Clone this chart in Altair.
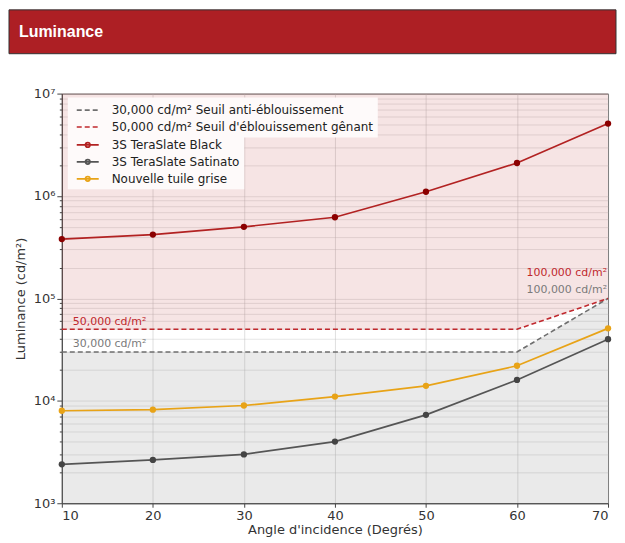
import altair as alt
import pandas as pd

# ---- data ----
angles = [10, 20, 30, 40, 50, 60, 70]
black = [380000, 420000, 500000, 620000, 1100000, 2100000, 5100000]
satinato = [2400, 2650, 3000, 4000, 7300, 16000, 40000]
grise = [8000, 8200, 9000, 11000, 14000, 22000, 51000]
seuil_anti = [30000, 30000, 30000, 30000, 30000, 30000, 100000]
seuil_gene = [50000, 50000, 50000, 50000, 50000, 50000, 100000]

S1 = "30,000 cd/m² Seuil anti-éblouissement"
S2 = "50,000 cd/m² Seuil d'éblouissement gênant"
S3 = "3S TeraSlate Black"
S4 = "3S TeraSlate Satinato"
S5 = "Nouvelle tuile grise"
thr_names = [S1, S2]
thr_colors = ["#6f6f6f", "#c0282d"]
ser_names = [S3, S4, S5]
ser_colors = ["#b22222", "#555555", "#e8a317"]
marker_colors = {S3: "#8b0000", S4: "#444444", S5: "#e8a317"}

y_ticks = [m * 10 ** k for k in range(3, 7) for m in range(1, 10)] + [10 ** 7]
x_ticks = [10, 20, 30, 40, 50, 60, 70]

thr_rows = []
for name, vals in [(S1, seuil_anti), (S2, seuil_gene)]:
    for a, v in zip(angles, vals):
        thr_rows.append({"angle": a, "value": v, "thr": name})
df_thr = pd.DataFrame(thr_rows)

ser_rows = []
for name, vals in [(S3, black), (S4, satinato), (S5, grise)]:
    for a, v in zip(angles, vals):
        ser_rows.append({"angle": a, "value": v, "series": name,
                         "mcolor": marker_colors[name]})
df_ser = pd.DataFrame(ser_rows)

upper = pd.DataFrame({"angle": angles, "value": seuil_gene})
lower = pd.DataFrame({"angle": angles, "value": seuil_anti})

is_pow = "abs(log(datum.value)/LN10 - round(log(datum.value)/LN10)) < 0.001"

X = alt.X("angle:Q", scale=alt.Scale(domain=[10, 70], nice=False),
          axis=alt.Axis(values=x_ticks, title="Angle d'incidence (Degrés)",
                        tickSize=4, labelFontSize=13, titleFontSize=13,
                        labelPadding=2, titlePadding=1, format="d",
                        gridColor="#b8b8b8", gridOpacity=0.45))
Y = alt.Y("value:Q", scale=alt.Scale(type="log", domain=[1000, 10000000], nice=False),
          axis=alt.Axis(values=y_ticks, title="Luminance (cd/m²)",
                        labelExpr=is_pow + " ? ('10' + ['⁰','¹','²','³','⁴','⁵','⁶','⁷','⁸','⁹'][round(log(datum.value)/LN10)]) : ''",
                        tickSize={"condition": {"test": is_pow, "value": 5}, "value": 2.5},
                        labelFontSize=13, titleFontSize=13, titlePadding=6,
                        gridColor="#b8b8b8", gridOpacity=0.35))

area_up = alt.Chart(upper).mark_area(color="#b22222", opacity=0.12).encode(
    x=X, y=Y, y2=alt.datum(10000000))
area_low = alt.Chart(lower).mark_area(color="#7f7f7f", opacity=0.16).encode(
    x=X, y=Y, y2=alt.datum(1000))

legend_common = dict(title=None, orient="none", legendX=6,
                     fillColor="#fefafa", padding=4, labelFont="DejaVu Sans",
                     labelFontSize=12, labelColor="#222222", symbolSize=225,
                     rowPadding=2, labelOffset=23, symbolStrokeWidth=1.7,
                     labelLimit=500)
leg_thr = alt.Legend(legendY=4, symbolType="M-0.47,0H2.47", symbolDash=[5, 3],
                     **legend_common)
nb = "\u00a0" * 34
leg_ser = alt.Legend(legendY=39,
                     symbolType="M-0.47,0H2.47M1.3,0A0.3,0.3,0,1,1,0.7,0A0.3,0.3,0,1,1,1.3,0",
                     labelExpr="datum.label + '" + nb + "'",
                     **legend_common)

thr_lines = alt.Chart(df_thr).mark_line(strokeWidth=1.6, strokeDash=[5, 3]).encode(
    x=X, y=Y,
    stroke=alt.Stroke("thr:N", sort=thr_names,
                      scale=alt.Scale(domain=thr_names, range=thr_colors), legend=leg_thr))
ser_lines = alt.Chart(df_ser).mark_line(strokeWidth=1.7).encode(
    x=X, y=Y,
    color=alt.Color("series:N", sort=ser_names,
                    scale=alt.Scale(domain=ser_names, range=ser_colors), legend=leg_ser))
points = alt.Chart(df_ser).mark_circle(size=40, opacity=1).encode(
    x=X, y=Y, fill=alt.Fill("mcolor:N", scale=None))

txt_left = pd.DataFrame({"angle": [10, 10], "value": [50000, 30000],
                         "label": ["50,000 cd/m²", "30,000 cd/m²"]})
t50 = alt.Chart(txt_left.iloc[[0]]).mark_text(
    align="left", baseline="middle", dx=11, dy=-7, fontSize=11,
    font="DejaVu Sans", color="#c0282d").encode(x=X, y=Y, text="label:N")
t30 = alt.Chart(txt_left.iloc[[1]]).mark_text(
    align="left", baseline="middle", dx=11, dy=-8, fontSize=11,
    font="DejaVu Sans", color="#7a7a7a").encode(x=X, y=Y, text="label:N")
txt_right = pd.DataFrame({"angle": [70, 70], "value": [100000, 100000],
                          "label": ["100,000 cd/m²", "100,000 cd/m²"]})
t100r = alt.Chart(txt_right.iloc[[0]]).mark_text(
    align="right", baseline="middle", dx=-1, dy=-25, fontSize=11,
    font="DejaVu Sans", color="#c0282d").encode(x=X, y=Y, text="label:N")
t100g = alt.Chart(txt_right.iloc[[1]]).mark_text(
    align="right", baseline="middle", dx=-1, dy=-8, fontSize=11,
    font="DejaVu Sans", color="#7a7a7a").encode(x=X, y=Y, text="label:N")

banner_df = pd.DataFrame({"t": ["Luminance"]})
banner = alt.Chart(banner_df).mark_rect(color="#ad1f24", stroke="#333333", strokeWidth=1).encode(
    x=alt.value(-53), x2=alt.value(556), y=alt.value(-84), y2=alt.value(-40))
banner_txt = alt.Chart(banner_df).mark_text(
    align="left", baseline="middle", font="Liberation Sans", fontSize=16,
    fontWeight="bold", color="white").encode(
    x=alt.value(-43), y=alt.value(-62), text="t:N")

chart = alt.layer(area_up, area_low, thr_lines, ser_lines, points, t50, t30, t100r, t100g,
                  banner, banner_txt).properties(
    width=548, height=411, padding=0
).configure_view(stroke="#555555", strokeWidth=1).configure_axis(
    labelFont="DejaVu Sans", titleFont="DejaVu Sans", labelColor="#333333",
    titleColor="#333333", titleFontWeight="normal", domainColor="#444444",
    tickColor="#444444")

chart.save("out.html", embed_options={"renderer": "svg", "actions": False})
